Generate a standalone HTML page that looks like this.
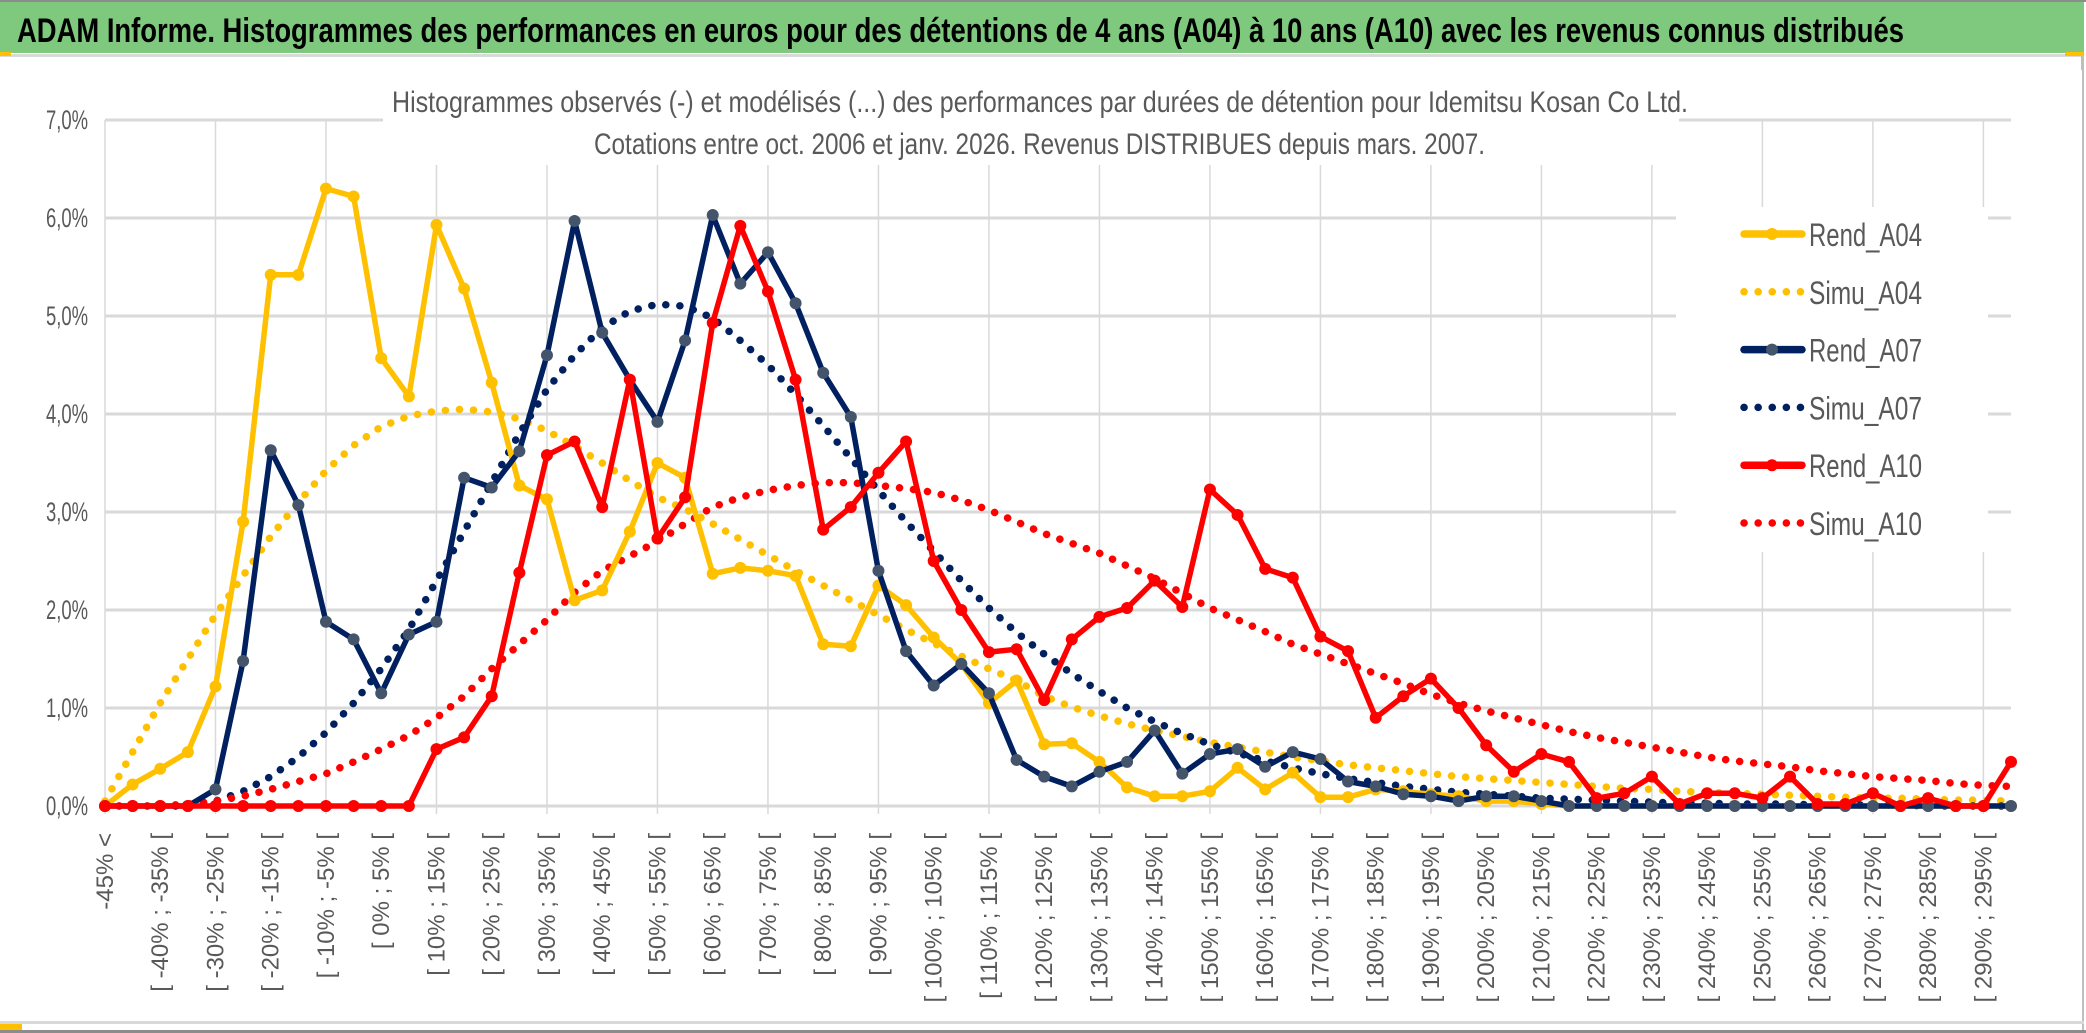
<!DOCTYPE html>
<html><head><meta charset="utf-8">
<style>
html,body{margin:0;padding:0;background:#fff;}
svg{display:block;}
text{font-family:"Liberation Sans Narrow","Liberation Sans",sans-serif;}
</style></head>
<body>
<svg id="chart" width="2086" height="1033" viewBox="0 0 2086 1033" xmlns="http://www.w3.org/2000/svg">
  <rect x="0" y="0" width="2086" height="1033" fill="#fff"/>
  <rect x="0" y="0" width="2086" height="2" fill="#8c8c8c"/>
  <rect x="0" y="2" width="2084" height="51" fill="#7ec97e"/>
  <rect x="0" y="54" width="2084" height="3" fill="#d9d9d9"/>
  <rect x="0" y="52" width="11" height="4" fill="#ffc000"/>
  <rect x="2065" y="52" width="19" height="4" fill="#ffc000"/>
  <rect x="2081" y="52" width="3" height="18" fill="#ffc000"/>
  <text x="17" y="42" font-size="34" font-weight="bold" fill="#000" textLength="1887" lengthAdjust="spacingAndGlyphs">ADAM Informe. Histogrammes des performances en euros pour des détentions de 4 ans (A04) à 10 ans (A10) avec les revenus connus distribués</text>
  <rect x="2082" y="56" width="2" height="977" fill="#bfbfbf"/>
  <rect x="0" y="1021" width="2084" height="3" fill="#d9d9d9"/>
  <rect x="0" y="1030" width="2086" height="3" fill="#8c8c8c"/>
  <rect x="0" y="1024" width="22" height="6" fill="#ffc000"/>
  <g id="grid"></g>
  <rect x="383" y="58" width="1296" height="107" fill="#fff"/>
  <rect x="1676" y="207" width="312" height="345" fill="#fff"/>
  <text x="392" y="112" font-size="30" fill="#595959" textLength="1296" lengthAdjust="spacingAndGlyphs">Histogrammes observés (-) et modélisés (...) des performances par durées de détention pour Idemitsu Kosan Co Ltd.</text>
  <text x="594" y="154" font-size="30" fill="#595959" textLength="891" lengthAdjust="spacingAndGlyphs">Cotations entre oct. 2006 et janv. 2026. Revenus DISTRIBUES depuis mars. 2007.</text>
  <g id="yaxis"></g>
  <g id="xaxis"></g>
  <g id="series"></g>
  <g id="legend"></g>
</svg>
<script>
var yTicks = [0,1,2,3,4,5,6,7];
var yTickLabels = ["0,0%","1,0%","2,0%","3,0%","4,0%","5,0%","6,0%","7,0%"];
var categories = (function(){var c=["-45% <"];for(var a=-45;a<300;a+=5){c.push("[ "+a+"% ; "+(a+5)+"% [");}return c;})();
var rendA04 = [0,0.22,0.38,0.55,1.22,2.9,5.42,5.42,6.3,6.22,4.57,4.18,5.93,5.28,4.32,3.27,3.13,2.1,2.2,2.8,3.5,3.35,2.37,2.43,2.4,2.35,1.65,1.63,2.25,2.05,1.72,1.45,1.05,1.28,0.63,0.64,0.45,0.19,0.1,0.1,0.15,0.39,0.17,0.34,0.09,0.09,0.17,0.15,0.12,0.1,0.05,0.05,0.02,0,0,0,0,0,0,0,0,0,0,0,0,0,0,0,0,0];
var simuA04 = [0.05,0.55,1.05,1.5,1.95,2.35,2.75,3.1,3.42,3.68,3.87,3.98,4.03,4.05,4.02,3.95,3.83,3.67,3.5,3.32,3.15,3.03,2.88,2.72,2.56,2.4,2.25,2.1,1.95,1.8,1.66,1.53,1.4,1.28,1.12,1.01,0.92,0.84,0.77,0.71,0.65,0.6,0.55,0.5,0.46,0.42,0.39,0.36,0.33,0.3,0.28,0.26,0.24,0.22,0.2,0.18,0.17,0.15,0.14,0.13,0.12,0.11,0.1,0.09,0.08,0.08,0.07,0.06,0.06,0.05];
var rendA07 = [0,0,0,0,0.17,1.48,3.63,3.07,1.88,1.7,1.15,1.75,1.88,3.35,3.25,3.62,4.6,5.97,4.83,4.35,3.92,4.75,6.03,5.33,5.65,5.13,4.42,3.97,2.4,1.58,1.23,1.45,1.15,0.47,0.3,0.2,0.35,0.45,0.77,0.33,0.53,0.58,0.4,0.55,0.48,0.25,0.2,0.12,0.1,0.05,0.1,0.1,0.05,0,0,0,0,0,0,0,0,0,0,0,0,0,0,0,0,0];
var simuA07 = [0,0,0,0,0.05,0.15,0.3,0.5,0.75,1.05,1.4,1.8,2.3,2.8,3.3,3.8,4.25,4.6,4.88,5.05,5.12,5.1,4.98,4.75,4.5,4.2,3.88,3.55,3.22,2.9,2.6,2.3,2.02,1.77,1.55,1.35,1.17,1.0,0.86,0.74,0.63,0.54,0.46,0.39,0.33,0.28,0.24,0.2,0.17,0.14,0.12,0.1,0.08,0.07,0.06,0.05,0.04,0.03,0.03,0.02,0.02,0.02,0.01,0.01,0.01,0.01,0,0,0,0];
var rendA10 = [0,0,0,0,0,0,0,0,0,0,0,0,0.58,0.7,1.12,2.38,3.58,3.72,3.05,4.35,2.73,3.15,4.93,5.92,5.25,4.35,2.82,3.05,3.4,3.72,2.5,2.0,1.57,1.6,1.08,1.7,1.93,2.02,2.3,2.03,3.23,2.97,2.42,2.33,1.73,1.58,0.9,1.12,1.3,1.0,0.62,0.35,0.53,0.45,0.08,0.13,0.3,0.02,0.13,0.13,0.08,0.3,0.02,0.02,0.13,0,0.08,0,0,0.45];
var simuA10 = [0,0,0,0.02,0.05,0.1,0.17,0.25,0.33,0.45,0.58,0.72,0.9,1.12,1.4,1.65,1.9,2.18,2.4,2.55,2.7,2.88,3.05,3.15,3.22,3.27,3.3,3.3,3.27,3.24,3.2,3.12,3.02,2.9,2.78,2.68,2.58,2.45,2.32,2.17,2.02,1.9,1.78,1.65,1.55,1.45,1.35,1.25,1.14,1.05,0.97,0.9,0.83,0.76,0.7,0.65,0.6,0.55,0.5,0.46,0.43,0.4,0.36,0.33,0.3,0.28,0.26,0.23,0.21,0.2];

var NS="http://www.w3.org/2000/svg";
var X0=105, X1=2011, Y0=806, YPER=98;
function xs(i){return X0+(X1-X0)*i/(categories.length-1);}
function ys(v){return Y0-v*YPER;}
function mk(tag,attrs,parent){var e=document.createElementNS(NS,tag);for(var k in attrs)e.setAttribute(k,attrs[k]);parent.appendChild(e);return e;}

var grid=document.getElementById('grid');
for(var k=0;k<yTicks.length;k++){
  var gl=mk('line',{x1:X0,x2:X1,y1:ys(yTicks[k]),y2:ys(yTicks[k]),stroke:'#d9d9d9','stroke-width':3},grid);
  
  
}
for(var i=0;i<categories.length;i+=4){
  var vl=mk('line',{x1:xs(i),x2:xs(i),y1:ys(7),y2:Y0+8,stroke:'#d9d9d9','stroke-width':1.5},grid);
  
  
}
var ya=document.getElementById('yaxis');
for(var k=0;k<yTicks.length;k++){
  var t=mk('text',{x:88,y:ys(yTicks[k])+9,'font-size':27,fill:'#595959','text-anchor':'end',textLength:42,lengthAdjust:'spacingAndGlyphs'},ya);
  t.textContent=yTickLabels[k];
  
  
}
var xa=document.getElementById('xaxis');
for(var i=0;i<categories.length;i+=2){
  var tx=xs(i)+8, ty=833;
  var t=mk('text',{x:tx,y:ty,'font-size':24,fill:'#595959','text-anchor':'end',transform:'rotate(-90 '+tx+' '+ty+')',style:'font-family:"Liberation Sans",sans-serif'},xa);
  t.textContent=categories[i];
  
  
}
var sg=document.getElementById('series');
function pts(arr){var p=[];for(var i=0;i<arr.length;i++)p.push(xs(i).toFixed(1)+','+ys(arr[i]).toFixed(1));return p.join(' ');}
function dotted(arr,color,name){
  var l=mk('polyline',{points:pts(arr),fill:'none',stroke:color,'stroke-width':7.5,'stroke-linecap':'round','stroke-dasharray':'0.1 14'},sg);
  
  
}
function solid(arr,color,mcolor,name){
  var g=mk('g',{},sg);
  
  
  mk('polyline',{points:pts(arr),fill:'none',stroke:color,'stroke-width':5.5,'stroke-linejoin':'round'},g);
  for(var i=0;i<arr.length;i++){
    var c=mk('circle',{cx:xs(i),cy:ys(arr[i]),r:6,fill:mcolor},g);
    
    
  }
}
dotted(simuA04,'#ffc000','simu-a04-line');
dotted(simuA07,'#002060','simu-a07-line');
dotted(simuA10,'#ff0000','simu-a10-line');
solid(rendA04,'#ffc000','#ffc000','rend-a04-line');
solid(rendA07,'#002060','#44546a','rend-a07-line');
solid(rendA10,'#ff0000','#ff0000','rend-a10-line');

var lg=document.getElementById('legend');
var legendNames=['Rend_A04','Simu_A04','Rend_A07','Simu_A07','Rend_A10','Simu_A10'];
var legendColors=['#ffc000','#ffc000','#002060','#002060','#ff0000','#ff0000'];
var legendMarker=['#ffc000',null,'#44546a',null,'#ff0000',null];
for(var k=0;k<6;k++){
  var cy=234+57.8*k;
  var g=mk('g',{},lg);
  
  
  if(legendMarker[k]){
    mk('line',{x1:1744,x2:1802,y1:cy,y2:cy,stroke:legendColors[k],'stroke-width':7.5,'stroke-linecap':'round'},g);
    mk('circle',{cx:1772,cy:cy,r:6,fill:legendMarker[k]},g);
  } else {
    mk('line',{x1:1744,x2:1804,y1:cy,y2:cy,stroke:legendColors[k],'stroke-width':7.5,'stroke-linecap':'round','stroke-dasharray':'0.1 14'},g);
  }
  var t=mk('text',{x:1809,y:cy+12,'font-size':32,fill:'#595959',textLength:113,lengthAdjust:'spacingAndGlyphs'},g);
  t.textContent=legendNames[k];
}
</script>
</body></html>
